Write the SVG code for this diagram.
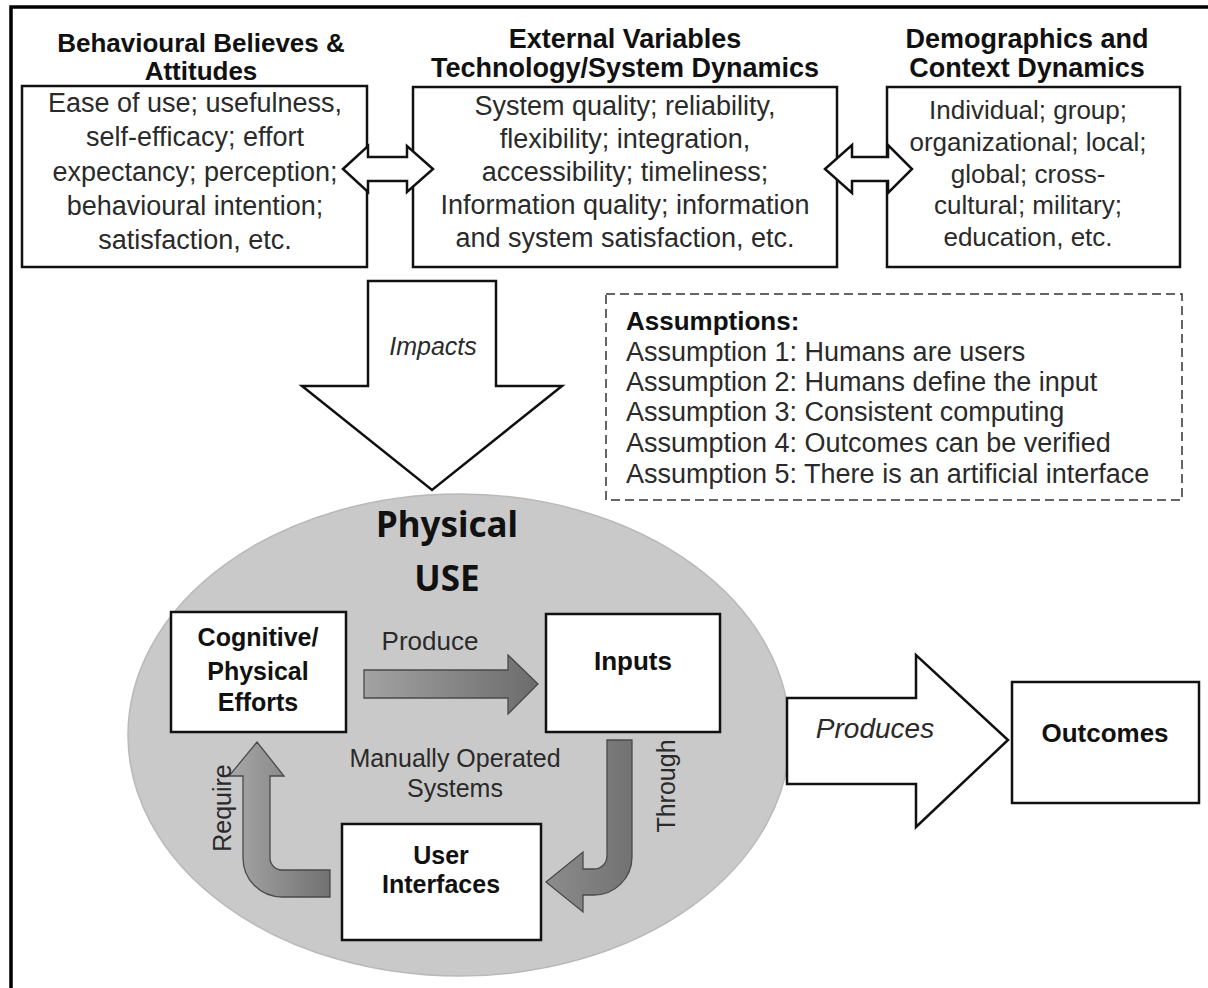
<svg xmlns="http://www.w3.org/2000/svg" width="1208" height="988" viewBox="0 0 1208 988">
<defs>
<style>
.box{fill:#fff;stroke:#111;stroke-width:2.5}
.t{font-family:"Liberation Sans",Arial,sans-serif;fill:#2a2a2a}
.b{font-family:"Liberation Sans",Arial,sans-serif;font-weight:bold;fill:#111}
.bigarrow{fill:#fff;stroke:#111;stroke-width:2.5;stroke-linejoin:miter}
.garrow{stroke:#4a4a4a;stroke-width:1.3}
</style>
<linearGradient id="gH" x1="0" y1="0" x2="1" y2="0">
<stop offset="0" stop-color="#a2a2a2"/><stop offset="1" stop-color="#6c6c6c"/>
</linearGradient>
<linearGradient id="gR" x1="0" y1="0" x2="1" y2="0">
<stop offset="0" stop-color="#a8a8a8"/><stop offset="1" stop-color="#717171"/>
</linearGradient>
<linearGradient id="gT" x1="0" y1="0" x2="1" y2="0">
<stop offset="0" stop-color="#8c8c8c"/><stop offset="1" stop-color="#727272"/>
</linearGradient>
</defs>
<rect width="1208" height="988" fill="#fff"/>
<path d="M11 988 V7 H1208" fill="none" stroke="#000" stroke-width="3.5"/>

<g id="ellipse-use">
<ellipse cx="459" cy="735" rx="331" ry="241" fill="#c9c9c9" stroke="#b9b9b9" stroke-width="1.5"/>
<text x="447" y="537" text-anchor="middle" font-family="'Noto Sans','Open Sans',sans-serif" font-weight="bold" font-size="35" fill="#111">Physical</text>
<text x="447" y="591" text-anchor="middle" font-family="'Noto Sans','Open Sans',sans-serif" font-weight="bold" font-size="35" fill="#111">USE</text>
<text class="t" font-size="25" text-anchor="middle"><tspan x="455" y="767">Manually Operated</tspan><tspan x="455" y="797">Systems</tspan></text>
</g>

<g id="node-behavioural">
<text class="b" font-size="26" text-anchor="middle"><tspan x="201" y="52">Behavioural Believes &amp;</tspan><tspan x="201" y="80">Attitudes</tspan></text>
<rect class="box" x="22" y="86" width="345" height="181"/>
<text class="t" font-size="27" text-anchor="middle"><tspan x="195" y="112">Ease of use; usefulness,</tspan><tspan x="195" y="146">self-efficacy; effort</tspan><tspan x="195" y="181">expectancy; perception;</tspan><tspan x="195" y="215">behavioural intention;</tspan><tspan x="195" y="249">satisfaction, etc.</tspan></text>
</g>

<g id="node-external">
<text class="b" font-size="27" text-anchor="middle"><tspan x="625" y="48">External Variables</tspan><tspan x="625" y="77">Technology/System Dynamics</tspan></text>
<rect class="box" x="413" y="87" width="424" height="180"/>
<text class="t" font-size="27" text-anchor="middle"><tspan x="625" y="115">System quality; reliability,</tspan><tspan x="625" y="148">flexibility; integration,</tspan><tspan x="625" y="181">accessibility; timeliness;</tspan><tspan x="625" y="214">Information quality; information</tspan><tspan x="625" y="247">and system satisfaction, etc.</tspan></text>
</g>

<g id="node-demographics">
<text class="b" font-size="27" text-anchor="middle"><tspan x="1027" y="48">Demographics and</tspan><tspan x="1027" y="77">Context Dynamics</tspan></text>
<rect class="box" x="887" y="87" width="293" height="180"/>
<text class="t" font-size="26" text-anchor="middle"><tspan x="1028" y="119">Individual; group;</tspan><tspan x="1028" y="151">organizational; local;</tspan><tspan x="1028" y="183">global; cross-</tspan><tspan x="1028" y="214">cultural; military;</tspan><tspan x="1028" y="246">education, etc.</tspan></text>
</g>

<g id="node-assumptions">
<rect x="606" y="294" width="576" height="206" fill="none" stroke="#333" stroke-width="1.5" stroke-dasharray="9 5"/>
<text class="b" font-size="26" x="626" y="330">Assumptions:</text>
<text class="t" font-size="27"><tspan x="626" y="361">Assumption 1: Humans are users</tspan><tspan x="626" y="391">Assumption 2: Humans define the input</tspan><tspan x="626" y="421">Assumption 3: Consistent computing</tspan><tspan x="626" y="452">Assumption 4: Outcomes can be verified</tspan><tspan x="626" y="483">Assumption 5: There is an artificial interface</tspan></text>
</g>

<g id="node-cognitive">
<rect class="box" x="171" y="612" width="175" height="120"/>
<text class="b" font-size="25" text-anchor="middle"><tspan x="258" y="646">Cognitive/</tspan><tspan x="258" y="680">Physical</tspan><tspan x="258" y="711">Efforts</tspan></text>
</g>

<g id="node-inputs">
<rect class="box" x="546" y="614" width="174" height="118"/>
<text class="b" font-size="26" x="633" y="670" text-anchor="middle">Inputs</text>
</g>

<g id="node-user-interfaces">
<rect class="box" x="342" y="824" width="199" height="116"/>
<text class="b" font-size="25" text-anchor="middle"><tspan x="441" y="864">User</tspan><tspan x="441" y="893">Interfaces</tspan></text>
</g>

<g id="node-outcomes">
<rect class="box" x="1012" y="682" width="187" height="121"/>
<text class="b" font-size="26" x="1105" y="742" text-anchor="middle">Outcomes</text>
</g>

<g id="connectors">
<path class="bigarrow" d="M343 169 L368 146 V157 H407 V146 L433 169 L407 192 V181 H368 V192 Z"/>
<path class="bigarrow" d="M825 169 L852 145 V157 H888 V145 L912 169 L888 193 V181 H852 V193 Z"/>
<path class="bigarrow" d="M368 281 H496 V386 H562 L432 490 L302 386 H368 Z"/>
<text class="t" font-size="25" font-style="italic" x="433" y="355" text-anchor="middle">Impacts</text>
<path class="bigarrow" d="M787 698 H916 V655 L1008 740 L916 827 V784 H787 Z"/>
<text class="t" font-size="28" font-style="italic" x="875" y="738" text-anchor="middle">Produces</text>
<path class="garrow" fill="url(#gH)" d="M364 670 H508 V655 L538 684 L508 714 V698 H364 Z"/>
<text class="t" font-size="26" x="430" y="650" text-anchor="middle">Produce</text>
<path class="garrow" fill="url(#gT)" d="M607 740 H632 V857 A38 38 0 0 1 594 895 H583 V912 L546 882 L583 852 V869 H594 A13 13 0 0 0 607 856 Z"/>
<text class="t" font-size="25" text-anchor="middle" transform="translate(666,786) rotate(-90)" x="0" y="9">Through</text>
<path class="garrow" fill="url(#gR)" d="M330 870 H282 A12 12 0 0 1 270 858 V776 H284 L257 742 L229 776 H243 V858 A39 39 0 0 0 282 897 H330 Z"/>
<text class="t" font-size="25" text-anchor="middle" transform="translate(222,808) rotate(-90)" x="0" y="9">Require</text>
</g>
</svg>
